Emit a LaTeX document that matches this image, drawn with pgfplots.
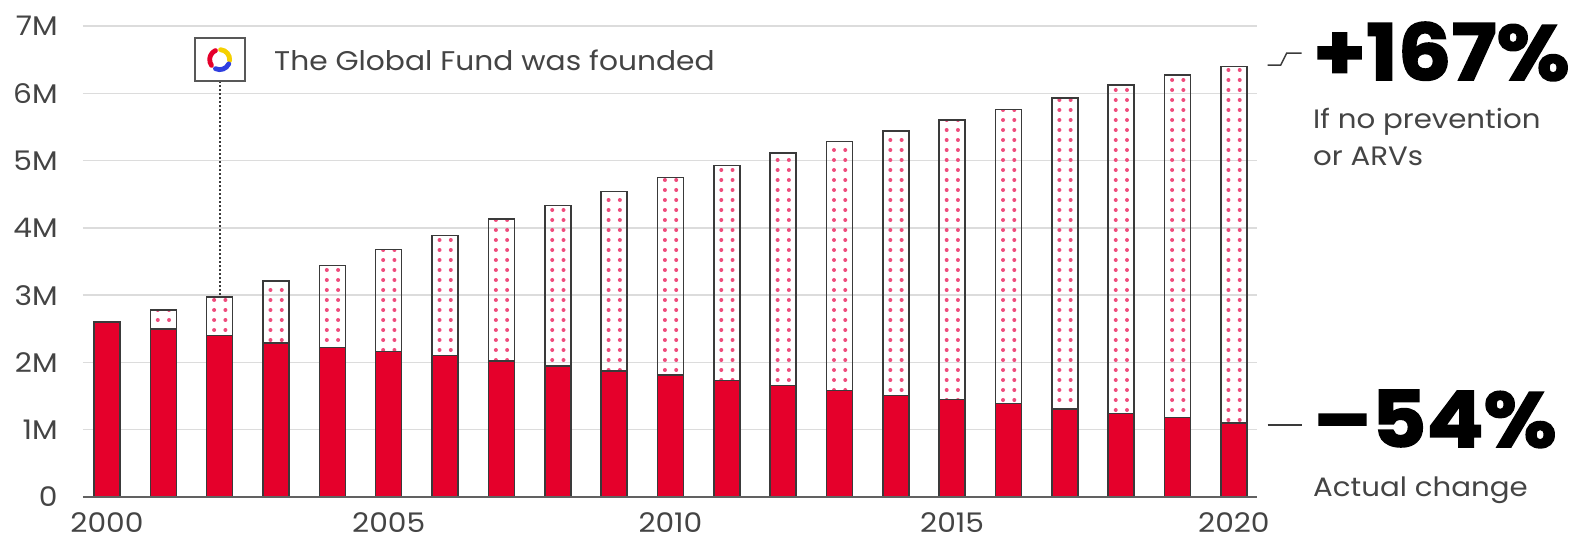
\documentclass[border=0pt]{standalone}
\usepackage{fontspec}
\setmainfont{Poppins}[FakeStretch=1.1]
\newfontfamily\heavy{Poppins}[FakeStretch=1.08, BoldFeatures={FakeBold=2}]
\usepackage{pgfplots}
\pgfplotsset{compat=1.18}
\usetikzlibrary{patterns.meta}
\definecolor{gfred}{HTML}{E5002B}
\definecolor{dotred}{HTML}{EE4C7C}
\definecolor{edge}{HTML}{3A3A3A}
\definecolor{txt}{HTML}{444444}
\definecolor{gridc}{HTML}{DCDCDC}
\definecolor{logoyellow}{HTML}{F5D000}
\definecolor{logoblue}{HTML}{2F3FE0}
\tikzdeclarepattern{name=gfdots, type=uncolored,
  bounding box={(-2.8175pt,-2.5pt) and (2.8175pt,2.5pt)},
  tile size={(5.635pt,5pt)},
  code={\fill (0pt,0pt) circle (1pt);}}
\begin{document}
\begin{tikzpicture}
\useasboundingbox (-41.5pt,-21.5pt) rectangle (754pt,248.5pt);
\begin{axis}[
  at={(0,0)}, anchor=south west,
  scale only axis, width=587pt, height=235.5pt,
  xmin=1999.574, xmax=2020.41, ymin=0, ymax=7,
  clip=false,
  axis line style={draw=none},
  major tick length=0pt,
  ymajorgrids, grid style={gridc, line width=0.75pt},
  ytick={0,1,2,3,4,5,6,7},
  yticklabels={0,1M,2M,3M,4M,5M,6M,7M},
  xtick={2000,2005,2010,2015,2020},
  xticklabels={2000,2005,2010,2015,2020},
  tick label style={font=\fontsize{13.5}{15}\selectfont, text=txt},
  yticklabel style={anchor=east, inner sep=0pt, xshift=-12.5pt},
  xticklabel style={anchor=north, inner sep=0pt, yshift=-7.5pt},
]
% totals (if no prevention or ARVs)
\addplot[ybar, bar width=13pt, bar shift=0pt, draw=edge, line width=0.75pt,
  pattern={gfdots}, pattern color=dotred] coordinates {
(2000,2.60) (2001,2.78) (2002,2.97) (2003,3.21) (2004,3.44) (2005,3.68)
(2006,3.89) (2007,4.13) (2008,4.33) (2009,4.54) (2010,4.75) (2011,4.93)
(2012,5.11) (2013,5.28) (2014,5.44) (2015,5.60) (2016,5.76) (2017,5.93)
(2018,6.12) (2019,6.27) (2020,6.40)};
% actual
\addplot[ybar, bar width=13pt, bar shift=0pt, draw=edge, line width=0.75pt,
  fill=gfred] coordinates {
(2000,2.60) (2001,2.50) (2002,2.40) (2003,2.29) (2004,2.22) (2005,2.16)
(2006,2.10) (2007,2.02) (2008,1.95) (2009,1.87) (2010,1.81) (2011,1.73)
(2012,1.66) (2013,1.58) (2014,1.51) (2015,1.45) (2016,1.39) (2017,1.31)
(2018,1.24) (2019,1.18) (2020,1.10)};
% baseline
\draw[edge!80, line width=0.9pt] (axis cs:1999.574,0) -- (axis cs:2020.41,0);
% Global Fund annotation
\draw[edge, densely dotted, line width=1pt] (axis cs:2002,6.18) -- (axis cs:2002,2.97);
\node[draw=edge!85, line width=0.9pt, fill=white, minimum width=25pt,
  minimum height=21.5pt, inner sep=0pt] (logo) at (axis cs:2002,6.50) {};
\node[anchor=base west, inner sep=0pt, text=txt, font=\fontsize{13.5}{16}\selectfont]
  at (axis cs:2002.96,6.345) {The Global Fund was founded};
% right annotations
\draw[edge, line width=0.75pt] (axis cs:2020.6,6.42) -- ++(6.5pt,0pt) -- ++(3pt,6pt) -- ++(7.5pt,0pt);
\draw[edge, line width=0.75pt] (axis cs:2020.6,1.07) -- ++(17pt,0pt);
\node[anchor=base west, inner sep=0pt, font=\fontsize{39}{42}\heavy\bfseries]
  at (axis cs:2021.40,6.196) {+167\%};
\node[anchor=base west, inner sep=0pt, text=txt, font=\fontsize{13.3}{15}\selectfont]
  at (axis cs:2021.40,5.48) {If no prevention};
\node[anchor=base west, inner sep=0pt, text=txt, font=\fontsize{13.3}{15}\selectfont]
  at (axis cs:2021.40,4.93) {or ARVs};
\node[anchor=base west, inner sep=0pt, font=\fontsize{39}{42}\heavy\bfseries]
  at (axis cs:2021.40,0.743) {–54\%};
\node[anchor=base west, inner sep=0pt, text=txt, font=\fontsize{13.3}{15}\selectfont]
  at (axis cs:2021.40,0.0) {Actual change};
\end{axis}
% logo swirl
\begin{scope}[shift={(logo.center)}, line cap=round]
  \draw[gfred, line width=2.4pt] (115:5pt) arc[start angle=115, end angle=215, radius=5pt];
  \draw[logoyellow, line width=2.4pt] (-5:5pt) arc[start angle=-5, end angle=85, radius=5pt];
  \draw[logoblue, line width=2.4pt] (245:5pt) arc[start angle=245, end angle=335, radius=5pt];
\end{scope}
\end{tikzpicture}
\end{document}
